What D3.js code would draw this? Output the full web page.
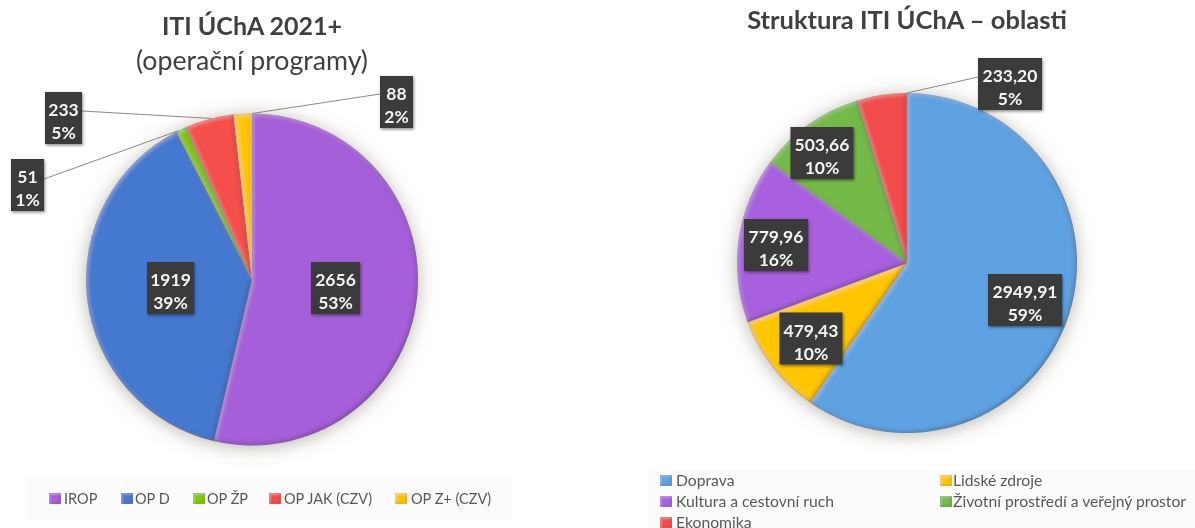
<!DOCTYPE html>
<html>
<head>
<meta charset="utf-8">
<script src="https://cdn.jsdelivr.net/npm/d3@7"></script>
<style>
html, body { margin: 0; padding: 0; background: #fff; overflow: hidden; }
text { font-family: Lato, "Open Sans", sans-serif; }
</style>
</head>
<body>
<div id="viz"></div>
<script>
// left pie
var program_names = ["IROP", "OP D", "OP ŽP", "OP JAK (CZV)", "OP Z+ (CZV)"];
var program_values = [2656, 1919, 51, 233, 88];
var program_percents = ["53%", "39%", "1%", "5%", "2%"];
var program_colors = ["#a55fd8", "#4479d0", "#86c60f", "#f5504c", "#ffc600"];
var program_label_text = ["2656", "1919", "51", "233", "88"];

// right pie
var area_names = ["Doprava", "Lidské zdroje", "Kultura a cestovní ruch", "Životní prostředí a veřejný prostor", "Ekonomika"];
var area_values = [2949.91, 479.43, 779.96, 503.66, 233.20];
var area_percents = ["59%", "10%", "16%", "10%", "5%"];
var area_colors = ["#5ea2e2", "#ffc600", "#a961de", "#74ba48", "#f24c4c"];
var area_label_text = ["2949,91", "479,43", "779,96", "503,66", "233,20"];

var width = 1195, height = 528;

var svg = d3.select("#viz").append("svg")
    .attr("width", width)
    .attr("height", height)
    .style("display", "block");

var defs = svg.append("defs");

function add_bevel(id, blur, offset, dark_opacity, light_opacity) {
    var f = defs.append("filter").attr("id", id)
        .attr("x", "-5%").attr("y", "-5%").attr("width", "110%").attr("height", "110%");

    // dark inner edge, bottom right
    f.append("feFlood").attr("flood-color", "#2a1a10").attr("flood-opacity", dark_opacity).attr("result", "dark");
    f.append("feComposite").attr("in", "dark").attr("in2", "SourceAlpha").attr("operator", "out").attr("result", "dark_out");
    f.append("feGaussianBlur").attr("in", "dark_out").attr("stdDeviation", blur).attr("result", "dark_blur");
    f.append("feOffset").attr("in", "dark_blur").attr("dx", -offset).attr("dy", -offset).attr("result", "dark_off");
    f.append("feComposite").attr("in", "dark_off").attr("in2", "SourceAlpha").attr("operator", "in").attr("result", "dark_in");

    // light inner edge, top left
    f.append("feFlood").attr("flood-color", "#ffffff").attr("flood-opacity", light_opacity).attr("result", "light");
    f.append("feComposite").attr("in", "light").attr("in2", "SourceAlpha").attr("operator", "out").attr("result", "light_out");
    f.append("feGaussianBlur").attr("in", "light_out").attr("stdDeviation", blur).attr("result", "light_blur");
    f.append("feOffset").attr("in", "light_blur").attr("dx", offset).attr("dy", offset).attr("result", "light_off");
    f.append("feComposite").attr("in", "light_off").attr("in2", "SourceAlpha").attr("operator", "in").attr("result", "light_in");

    var merge = f.append("feMerge");
    merge.append("feMergeNode").attr("in", "SourceGraphic");
    merge.append("feMergeNode").attr("in", "light_in");
    merge.append("feMergeNode").attr("in", "dark_in");
}

add_bevel("bevel", 2.2, 1.2, 0.75, 0.35);
add_bevel("bevel_small", 1, 0.6, 0.6, 0.5);

var pie_shadow = defs.append("filter").attr("id", "pie_shadow")
    .attr("x", "-15%").attr("y", "-15%").attr("width", "130%").attr("height", "130%");
pie_shadow.append("feDropShadow").attr("dx", 0).attr("dy", 2).attr("stdDeviation", 9)
    .attr("flood-color", "#7a7060").attr("flood-opacity", 0.5);

var box_shadow = defs.append("filter").attr("id", "box_shadow")
    .attr("x", "-30%").attr("y", "-30%").attr("width", "160%").attr("height", "160%");
box_shadow.append("feDropShadow").attr("dx", 1).attr("dy", 1.5).attr("stdDeviation", 1.5)
    .attr("flood-color", "#000").attr("flood-opacity", 0.45);

var soften = defs.append("filter").attr("id", "soften")
    .attr("filterUnits", "userSpaceOnUse")
    .attr("x", 0).attr("y", 0).attr("width", width).attr("height", height);
soften.append("feGaussianBlur").attr("stdDeviation", 0.35);

var root = svg.append("g").attr("filter", "url(#soften)");
root.append("rect").attr("width", width).attr("height", height).attr("fill", "#fff");

function draw_pie(cfg) {
    var pie = d3.pie().sort(null).value(function(d) { return d; });
    var arc = d3.arc().innerRadius(0).outerRadius(cfg.r);
    var arcs = pie(cfg.values);

    root.append("g")
        .attr("transform", "translate(" + cfg.cx + "," + cfg.cy + ")")
        .attr("filter", "url(#pie_shadow)")
        .selectAll("path")
        .data(arcs)
        .enter().append("path")
        .attr("d", arc)
        .attr("fill", function(d, i) { return cfg.colors[i]; })
        .attr("filter", "url(#bevel)");

    // leader lines go under the boxes
    cfg.leaders.forEach(function(l) {
        var a = arcs[l.index];
        var mid = a.startAngle + (a.endAngle - a.startAngle) * l.angle;
        root.append("line")
            .attr("x1", cfg.cx + Math.sin(mid) * cfg.r)
            .attr("y1", cfg.cy - Math.cos(mid) * cfg.r)
            .attr("x2", l.x)
            .attr("y2", l.y)
            .attr("stroke", "#8a8a8a")
            .attr("stroke-width", 1);
    });

    cfg.boxes.forEach(function(b, i) {
        root.append("rect")
            .attr("x", b.x - b.w / 2)
            .attr("y", b.y - 26)
            .attr("width", b.w)
            .attr("height", 52)
            .attr("fill", "#3a3a3a")
            .attr("filter", "url(#box_shadow)");

        var t = root.append("text")
            .attr("text-anchor", "middle")
            .attr("font-size", 17.5)
            .attr("font-weight", 700)
            .attr("fill", "#f4f4f4");
        t.append("tspan").attr("x", b.x).attr("y", b.y - 2).text(cfg.labels[i]);
        t.append("tspan").attr("x", b.x).attr("y", b.y + 21).text(cfg.percents[i]);
    });
}

draw_pie({
    cx: 252, cy: 279.5, r: 166,
    values: program_values,
    colors: program_colors,
    labels: program_label_text,
    percents: program_percents,
    boxes: [
        {x: 335.5, y: 288, w: 49},
        {x: 170.5, y: 288, w: 47},
        {x: 27.5, y: 185, w: 33},
        {x: 63.5, y: 118, w: 37},
        {x: 396.5, y: 102, w: 33}
    ],
    leaders: [
        {index: 2, angle: 0.2, x: 44, y: 179},
        {index: 3, angle: 0.55, x: 82, y: 111},
        {index: 4, angle: 1, x: 380, y: 94}
    ]
});

draw_pie({
    cx: 907, cy: 263, r: 170,
    values: area_values,
    colors: area_colors,
    labels: area_label_text,
    percents: area_percents,
    boxes: [
        {x: 1025, y: 300, w: 74},
        {x: 811, y: 338.5, w: 63},
        {x: 776, y: 245, w: 64},
        {x: 822, y: 153, w: 63},
        {x: 1010, y: 84, w: 64}
    ],
    leaders: [
        {index: 4, angle: 1, x: 978, y: 77}
    ]
});

// titles
function add_title(x, y, size, weight, str) {
    root.append("text")
        .attr("x", x).attr("y", y)
        .attr("text-anchor", "middle")
        .attr("font-size", size)
        .attr("font-weight", weight)
        .attr("fill", "#404040")
        .text(str);
}
add_title(252, 35, 25, 700, "ITI ÚChA 2021+");
add_title(252, 70, 26.7, 400, "(operační programy)");
add_title(907, 29, 25.5, 700, "Struktura ITI ÚChA – oblasti");

// legends
function draw_legend(bg, names, colors, spots, size) {
    root.append("rect")
        .attr("x", bg.x).attr("y", bg.y).attr("width", bg.w).attr("height", bg.h)
        .attr("fill", "#fbfbfb");
    names.forEach(function(name, i) {
        var s = spots[i];
        root.append("rect")
            .attr("x", s.x).attr("y", s.y - 6).attr("width", 12).attr("height", 11)
            .attr("fill", colors[i])
            .attr("filter", "url(#bevel_small)");
        root.append("text")
            .attr("x", s.tx).attr("y", s.y + 5)
            .attr("font-size", size)
            .attr("fill", "#595959")
            .text(name);
    });
}

draw_legend({x: 27, y: 477, w: 483, h: 43}, program_names, program_colors, [
    {x: 49, tx: 64, y: 499},
    {x: 121, tx: 135, y: 499},
    {x: 193, tx: 207, y: 499},
    {x: 269, tx: 284, y: 499},
    {x: 395, tx: 411, y: 499}
], 14.5);

draw_legend({x: 650, y: 470, w: 545, h: 58}, area_names, area_colors, [
    {x: 660, tx: 676, y: 481},
    {x: 940, tx: 953, y: 481},
    {x: 660, tx: 676, y: 502},
    {x: 940, tx: 953, y: 502},
    {x: 660, tx: 676, y: 523}
], 15.7);
</script>
</body>
</html>
